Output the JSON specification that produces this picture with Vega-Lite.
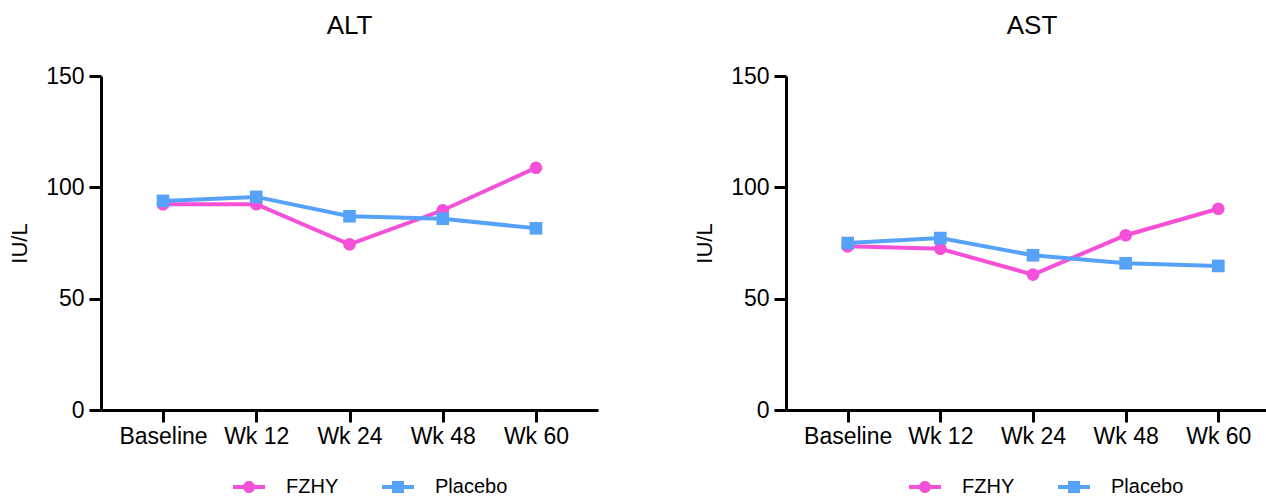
{
  "$schema": "https://vega.github.io/schema/vega-lite/v6.json",
  "background": "white",
  "padding": {"left": 8, "top": 13, "right": 0, "bottom": 0},
  "spacing": 95,
  "config": {
    "font": "Liberation Sans",
    "view": {"stroke": null},
    "axis": {"grid": false, "domainColor": "black", "tickColor": "black", "domainWidth": 3, "tickWidth": 3, "labelColor": "black", "titleColor": "black", "labelFont": "Liberation Sans", "titleFont": "Liberation Sans", "labelFontSize": 23, "titleFontSize": 22, "titleFontWeight": "normal"},
    "title": {"font": "Liberation Sans", "fontSize": 26, "fontWeight": "normal", "color": "black", "offset": 26},
    "legend": {"labelFont": "Liberation Sans", "labelFontSize": 20, "labelColor": "black"}
  },
  "datasets": {
    "liver": [
      {"panel": "ALT", "time": "Baseline", "group": "FZHY", "value": 92.4},
      {"panel": "ALT", "time": "Wk 12", "group": "FZHY", "value": 92.4},
      {"panel": "ALT", "time": "Wk 24", "group": "FZHY", "value": 74.4},
      {"panel": "ALT", "time": "Wk 48", "group": "FZHY", "value": 89.7},
      {"panel": "ALT", "time": "Wk 60", "group": "FZHY", "value": 108.8},
      {"panel": "ALT", "time": "Baseline", "group": "Placebo", "value": 93.9},
      {"panel": "ALT", "time": "Wk 12", "group": "Placebo", "value": 95.7},
      {"panel": "ALT", "time": "Wk 24", "group": "Placebo", "value": 87.0},
      {"panel": "ALT", "time": "Wk 48", "group": "Placebo", "value": 85.9},
      {"panel": "ALT", "time": "Wk 60", "group": "Placebo", "value": 81.6},
      {"panel": "AST", "time": "Baseline", "group": "FZHY", "value": 73.5},
      {"panel": "AST", "time": "Wk 12", "group": "FZHY", "value": 72.4},
      {"panel": "AST", "time": "Wk 24", "group": "FZHY", "value": 60.8},
      {"panel": "AST", "time": "Wk 48", "group": "FZHY", "value": 78.5},
      {"panel": "AST", "time": "Wk 60", "group": "FZHY", "value": 90.4},
      {"panel": "AST", "time": "Baseline", "group": "Placebo", "value": 75.0},
      {"panel": "AST", "time": "Wk 12", "group": "Placebo", "value": 77.2},
      {"panel": "AST", "time": "Wk 24", "group": "Placebo", "value": 69.5},
      {"panel": "AST", "time": "Wk 48", "group": "Placebo", "value": 65.9},
      {"panel": "AST", "time": "Wk 60", "group": "Placebo", "value": 64.7}
    ]
  },
  "hconcat": [
    {
      "title": {"text": "ALT"},
      "width": 497,
      "height": 334,
      "data": {"name": "liver"},
      "transform": [{"filter": "datum.panel === 'ALT'"}],
      "encoding": {
        "x": {"field": "time", "type": "nominal", "sort": ["Baseline", "Wk 12", "Wk 24", "Wk 48", "Wk 60"], "scale": {"type": "point", "padding": 0.665}, "axis": {"title": null, "labelAngle": 0, "tickSize": 12, "labelPadding": 3}},
        "y": {"field": "value", "type": "quantitative", "scale": {"domain": [0, 150]}, "axis": {"title": "IU/L", "values": [0, 50, 100, 150], "tickSize": 12, "labelPadding": 5, "titlePadding": 14}}
      },
      "layer": [
        {"transform": [{"filter": "datum.value < 0"}],
          "mark": {"type": "point", "filled": true, "opacity": 1},
          "encoding": {
            "color": {"field": "group", "type": "nominal", "scale": {"domain": ["FZHY", "Placebo"], "range": ["#F550D8", "#55A2F8"]},
              "legend": {"title": null, "orient": "none", "direction": "horizontal", "legendX": 138, "legendY": 401, "symbolSize": 256, "symbolStrokeWidth": 0, "symbolOpacity": 1, "labelOffset": 27, "columnPadding": 43}},
            "shape": {"field": "group", "type": "nominal", "scale": {"domain": ["FZHY", "Placebo"], "range": ["M-2,-0.25L2,-0.25L2,0.25L-2,0.25Z M0.75,0A0.75,0.75,0,1,1,-0.75,0A0.75,0.75,0,1,1,0.75,0Z", "M-2,-0.25L2,-0.25L2,0.25L-2,0.25Z M-0.75,-0.75L0.75,-0.75L0.75,0.75L-0.75,0.75Z"]},
              "legend": {"title": null, "orient": "none", "direction": "horizontal", "legendX": 138, "legendY": 401, "symbolSize": 256, "symbolStrokeWidth": 0, "symbolOpacity": 1, "labelOffset": 27, "columnPadding": 43}}
          }},
        {"mark": {"type": "line", "strokeWidth": 4},
          "encoding": {"color": {"field": "group", "type": "nominal", "scale": {"domain": ["FZHY", "Placebo"], "range": ["#F550D8", "#55A2F8"]}}}},
        {"transform": [{"filter": "datum.group === 'FZHY'"}],
          "mark": {"type": "point", "filled": true, "size": 160, "opacity": 1, "shape": "circle"},
          "encoding": {"color": {"field": "group", "type": "nominal", "scale": {"domain": ["FZHY", "Placebo"], "range": ["#F550D8", "#55A2F8"]}}}},
        {"transform": [{"filter": "datum.group === 'Placebo'"}],
          "mark": {"type": "point", "filled": true, "size": 160, "opacity": 1, "shape": "square"},
          "encoding": {"color": {"field": "group", "type": "nominal", "scale": {"domain": ["FZHY", "Placebo"], "range": ["#F550D8", "#55A2F8"]}}}}
      ]
    },
    {
      "title": {"text": "AST", "dx": 6},
      "width": 480,
      "height": 334,
      "data": {"name": "liver"},
      "transform": [{"filter": "datum.panel === 'AST'"}],
      "encoding": {
        "x": {"field": "time", "type": "nominal", "sort": ["Baseline", "Wk 12", "Wk 24", "Wk 48", "Wk 60"], "scale": {"type": "point", "padding": 0.59, "align": 0.564}, "axis": {"title": null, "labelAngle": 0, "tickSize": 12, "labelPadding": 3}},
        "y": {"field": "value", "type": "quantitative", "scale": {"domain": [0, 150]}, "axis": {"title": "IU/L", "values": [0, 50, 100, 150], "tickSize": 12, "labelPadding": 5, "titlePadding": 14}}
      },
      "layer": [
        {"transform": [{"filter": "datum.value < 0"}],
          "mark": {"type": "point", "filled": true, "opacity": 1},
          "encoding": {
            "color": {"field": "group", "type": "nominal", "scale": {"domain": ["FZHY", "Placebo"], "range": ["#F550D8", "#55A2F8"]},
              "legend": {"title": null, "orient": "none", "direction": "horizontal", "legendX": 129, "legendY": 401, "symbolSize": 256, "symbolStrokeWidth": 0, "symbolOpacity": 1, "labelOffset": 27, "columnPadding": 43}},
            "shape": {"field": "group", "type": "nominal", "scale": {"domain": ["FZHY", "Placebo"], "range": ["M-2,-0.25L2,-0.25L2,0.25L-2,0.25Z M0.75,0A0.75,0.75,0,1,1,-0.75,0A0.75,0.75,0,1,1,0.75,0Z", "M-2,-0.25L2,-0.25L2,0.25L-2,0.25Z M-0.75,-0.75L0.75,-0.75L0.75,0.75L-0.75,0.75Z"]},
              "legend": {"title": null, "orient": "none", "direction": "horizontal", "legendX": 129, "legendY": 401, "symbolSize": 256, "symbolStrokeWidth": 0, "symbolOpacity": 1, "labelOffset": 27, "columnPadding": 43}}
          }},
        {"mark": {"type": "line", "strokeWidth": 4},
          "encoding": {"color": {"field": "group", "type": "nominal", "scale": {"domain": ["FZHY", "Placebo"], "range": ["#F550D8", "#55A2F8"]}}}},
        {"transform": [{"filter": "datum.group === 'FZHY'"}],
          "mark": {"type": "point", "filled": true, "size": 160, "opacity": 1, "shape": "circle"},
          "encoding": {"color": {"field": "group", "type": "nominal", "scale": {"domain": ["FZHY", "Placebo"], "range": ["#F550D8", "#55A2F8"]}}}},
        {"transform": [{"filter": "datum.group === 'Placebo'"}],
          "mark": {"type": "point", "filled": true, "size": 160, "opacity": 1, "shape": "square"},
          "encoding": {"color": {"field": "group", "type": "nominal", "scale": {"domain": ["FZHY", "Placebo"], "range": ["#F550D8", "#55A2F8"]}}}}
      ]
    }
  ],
  "resolve": {"scale": {"color": "independent", "shape": "independent", "x": "independent", "y": "independent"}, "legend": {"color": "independent", "shape": "independent"}}
}
